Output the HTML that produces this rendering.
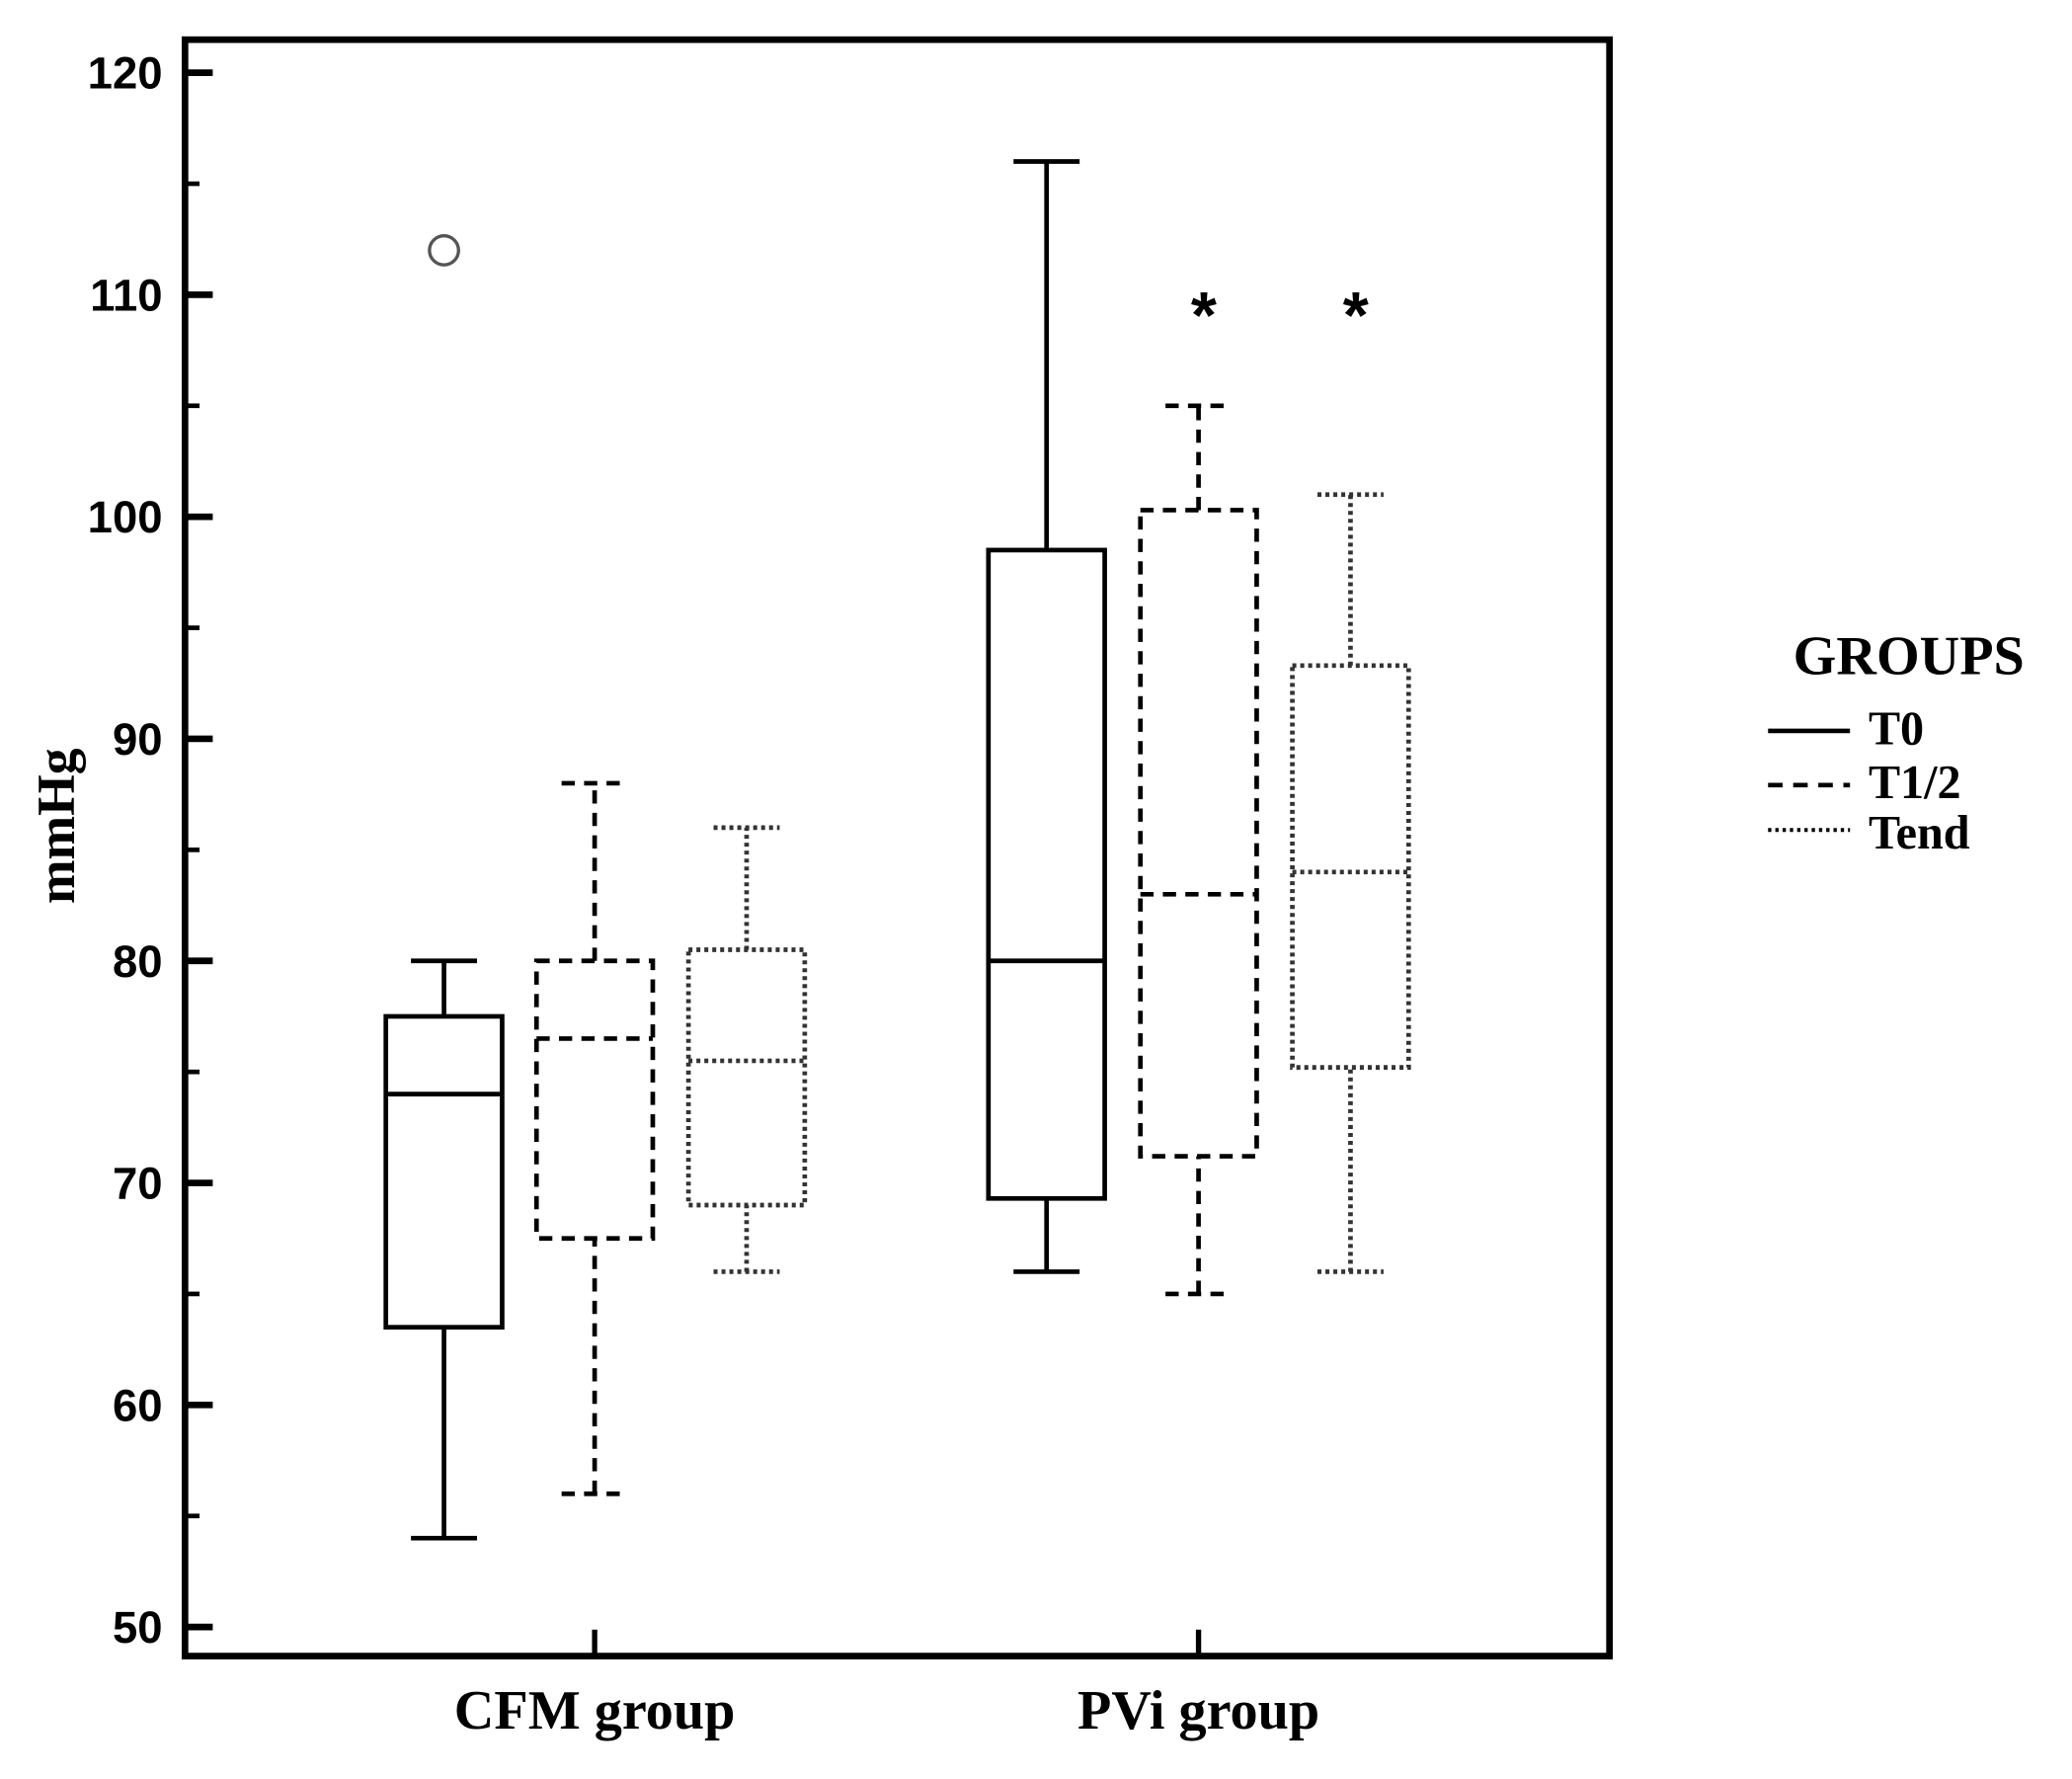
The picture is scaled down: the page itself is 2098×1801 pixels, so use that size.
<!DOCTYPE html>
<html><head><meta charset="utf-8"><style>
html,body{margin:0;padding:0;background:#fff;}
svg{display:block;}
</style></head><body>
<svg id="chart" width="2098" height="1801" viewBox="0 0 1568 1346" xmlns="http://www.w3.org/2000/svg">
<rect width="1568" height="1346" fill="#fff"/>
<g id="plot"></g>
<text transform="translate(56,625) rotate(-90)" text-anchor="middle" font-family="Liberation Serif, serif" font-weight="bold" font-size="40">mmHg</text>
<g font-family="Liberation Serif, serif" font-weight="bold">
<text x="1357" y="510" font-size="42">GROUPS</text>
<line x1="1338" y1="553" x2="1400" y2="553" stroke="#000" stroke-width="3.5"/>
<text x="1414" y="563" font-size="36">T0</text>
<line x1="1338" y1="594" x2="1400" y2="594" stroke="#000" stroke-width="3.5" stroke-dasharray="11,8"/>
<text x="1414" y="604" font-size="36">T1/2</text>
<line x1="1338" y1="628" x2="1400" y2="628" stroke="#000" stroke-width="3" stroke-dasharray="2.5,3"/>
<text x="1414" y="642" font-size="36">Tend</text>
</g>
</svg>
<script>
const categories = ["CFM group", "PVi group"];
const series = ["T0", "T1/2", "Tend"];
const whiskerLow  = [[54, 56, 66], [66, 65, 66]];
const q1          = [[63.5, 67.5, 69], [69.3, 71.2, 75.2]];
const medians     = [[74, 76.5, 75.5], [80, 83, 84]];
const q3          = [[77.5, 80, 80.5], [98.5, 100.3, 93.3]];
const whiskerHigh = [[80, 88, 86], [116, 105, 101]];
const outliers    = [[0, 0, 112]];
const stars       = [[1, 1, 109.6], [1, 2, 109.6]];
const yTicks = [50, 60, 70, 80, 90, 100, 110, 120];
const yMinor = [55, 65, 75, 85, 95, 105, 115];

const NS = "http://www.w3.org/2000/svg";
const g = document.getElementById("plot");
const L = 140, R = 1218, T = 30, B = 1253;
function y(v){ return 1231 + (v - 50) * (55 - 1231) / 70; }
function xc(ci){ return 450 + ci * 457; }
const dashes = ["", "10,7", "3,3"];
function el(tag, attrs){ const e = document.createElementNS(NS, tag); for (const k in attrs) e.setAttribute(k, attrs[k]); g.appendChild(e); return e; }

const fr = el("rect", {x:L, y:T, width:R-L, height:B-T, fill:"none", stroke:"#000", "stroke-width":5});



yTicks.forEach(v => {
  const t = el("line", {x1:L, x2:L+21, y1:y(v), y2:y(v), stroke:"#000", "stroke-width":5});
  
  
  const tx = el("text", {x:123, y:y(v)+12, "text-anchor":"end", "font-family":"Liberation Sans, sans-serif", "font-weight":"bold", "font-size":34});
  tx.textContent = v;
  
  
});
yMinor.forEach(v => {
  const t = el("line", {x1:L, x2:L+11, y1:y(v), y2:y(v), stroke:"#000", "stroke-width":3.5});
  
  
});
categories.forEach((c, ci) => {
  const t = el("line", {x1:xc(ci), x2:xc(ci), y1:B, y2:B-20, stroke:"#000", "stroke-width":4});
  
  
  const tx = el("text", {x:xc(ci), y:1308, "text-anchor":"middle", "font-family":"Liberation Serif, serif", "font-weight":"bold", "font-size":42});
  tx.textContent = c;
  
  
});

const half = 44, cap = 25;
categories.forEach((c, ci) => {
  series.forEach((s, si) => {
    const x = xc(ci) + (si - 1) * 115 + (ci === 0 && si === 0 ? 1 : 0);
    const da = dashes[si];
    const st = {stroke: si === 2 ? "#333" : "#000", "stroke-width": si === 2 ? 3.5 : 3.5, fill:"none"};
    if (da) st["stroke-dasharray"] = da;
    const wl = el("line", Object.assign({x1:x, x2:x, y1:y(whiskerLow[ci][si]), y2:y(q1[ci][si])}, st));
    
    
    const wh = el("line", Object.assign({x1:x, x2:x, y1:y(q3[ci][si]), y2:y(whiskerHigh[ci][si])}, st));
    
    
    const cl = el("line", Object.assign({x1:x-cap, x2:x+cap, y1:y(whiskerLow[ci][si]), y2:y(whiskerLow[ci][si])}, st));
    
    
    const ch = el("line", Object.assign({x1:x-cap, x2:x+cap, y1:y(whiskerHigh[ci][si]), y2:y(whiskerHigh[ci][si])}, st));
    
    
    const bx = el("rect", Object.assign({x:x-half, y:y(q3[ci][si]), width:2*half, height:y(q1[ci][si])-y(q3[ci][si])}, st));
    
    
    const md = el("line", Object.assign({x1:x-half, x2:x+half, y1:y(medians[ci][si]), y2:y(medians[ci][si])}, st));
    
    
  });
});
outliers.forEach(o => {
  const x = xc(o[0]) - 115 + 1;
  const c = el("circle", {cx:x, cy:y(o[2]), r:11, fill:"none", stroke:"#555", "stroke-width":2.5});
  
  
});
stars.forEach(s => {
  const x = xc(s[0]) + (s[1] - 1) * 115 + 4;
  const t = el("text", {x:x, y:y(s[2]) + 26, "text-anchor":"middle", "font-family":"Liberation Sans, sans-serif", "font-weight":"bold", "font-size":50});
  t.textContent = "*";
  
  
});
</script>
</body></html>
